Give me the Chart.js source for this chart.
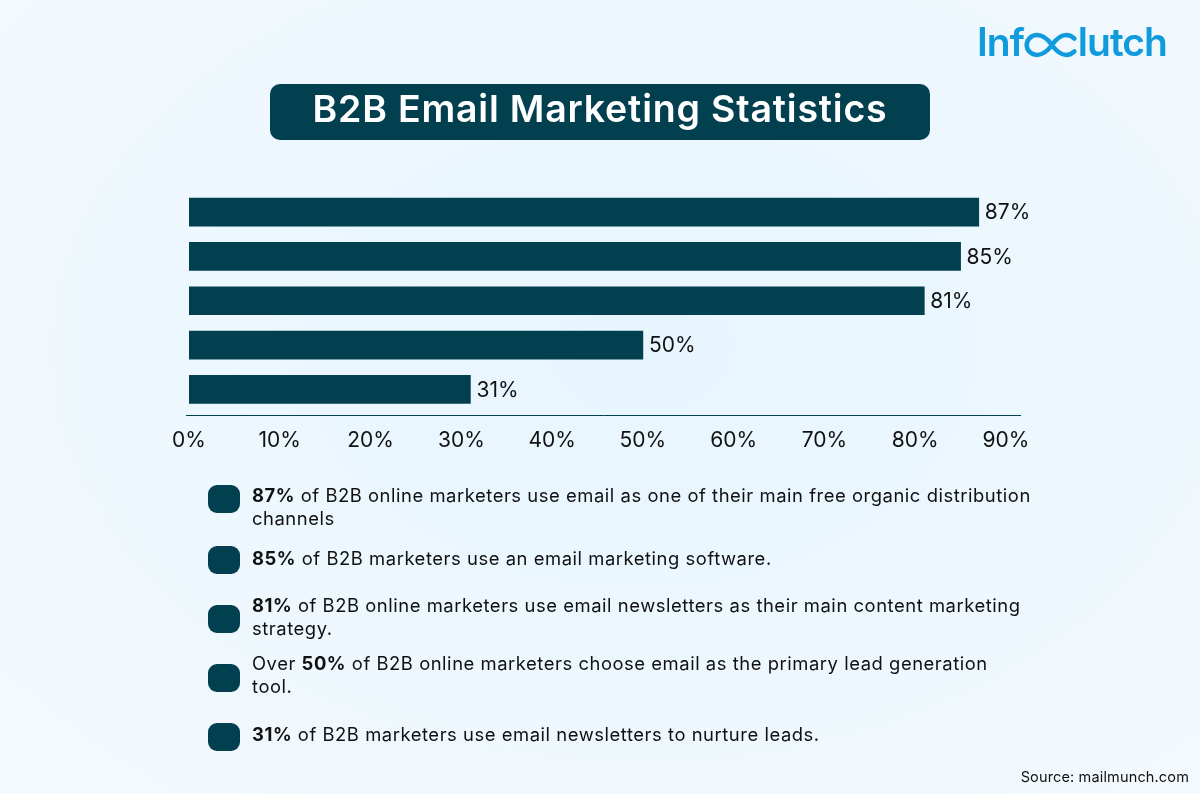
<!DOCTYPE html>
<html>
<head>
<meta charset="utf-8">
<script src="https://cdn.jsdelivr.net/npm/chart.js@4"></script>
<style>
  html, body { margin: 0; padding: 0; }
  body { width: 1200px; height: 794px; position: relative; overflow: hidden; font-family: Inter, sans-serif; color: #111;
    background: radial-gradient(ellipse 800px 560px at 640px 350px, #e7f5fe 0%, #ecf7fe 50%, #f3f9fd 100%); }
  #chart { position: absolute; left: 0; top: 0; }
  #title { position: absolute; left: 270px; top: 84px; width: 660px; height: 56px; line-height: 50px; background: #02404f; border-radius: 10px;
    color: #fff; font-size: 37.5px; font-weight: 600; letter-spacing: 0.8px; text-align: center; }
  #logo { position: absolute; left: 977px; top: 18px; font-size: 39px; line-height: 48px; font-weight: 600; white-space: nowrap; letter-spacing: -1px;
    color: #0f9bdc; display: flex; align-items: center; }
  #logo svg { margin: 5px 0 0 0; }
  .bullet { position: absolute; left: 208px; width: 32px; height: 28px; background: #02404f; border-radius: 9px; }
  .item { position: absolute; left: 252px; font-size: 18.4px; line-height: 23px; letter-spacing: 0.55px; white-space: nowrap; }
  .item b { font-weight: 700; }
  #source { position: absolute; right: 11px; top: 768px; font-size: 14.5px; line-height: 18px; letter-spacing: 0.15px; }
</style>
</head>
<body>
<canvas id="chart" width="1200" height="794"></canvas>
<div id="title">B2B Email Marketing Statistics</div>
<div id="logo" aria-label="Infoclutch">Inf<svg width="54" height="28" viewBox="0 0 60 30"><path d="M31 15C26 8 21 4 14.500 4C8 4 3 9 3 15C3 21 8 26 14.500 26C21 26 26 22 31 15C36 8 41 4 47 4C50 4 53 5 56 8M31 15C36 22 41 26 47 26C50 26 53 25 56 22" fill="none" stroke="#0f9bdc" stroke-width="5" stroke-linecap="round"/></svg>lutch</div>
<div id="source">Source: mailmunch.com</div>
<script>
const categories = ['Email as organic channel', 'Email marketing software', 'Email newsletters for content', 'Email for lead generation', 'Newsletters to nurture leads'];
const percentValues = [87, 85, 81, 50, 31];
const axisTicks = [0, 10, 20, 30, 40, 50, 60, 70, 80, 90];

// texte de la liste sous le graphique
const notePrefix = ['', '', '', 'Over ', ''];
const noteBold = ['87%', '85%', '81%', '50%', '31%'];
const noteLines = [
  [' of B2B online marketers use email as one of their main free organic distribution', 'channels'],
  [' of B2B marketers use an email marketing software.'],
  [' of B2B online marketers use email newsletters as their main content marketing', 'strategy.'],
  [' of B2B online marketers choose email as the primary lead generation', 'tool.'],
  [' of B2B marketers use email newsletters to nurture leads.']
];
const bulletTops = [485, 546, 605, 664, 723];
const noteTops = [484, 547, 594, 652, 723];

bulletTops.forEach((top, i) => {
  const bullet = document.createElement('div');
  bullet.className = 'bullet';
  bullet.style.top = top + 'px';
  document.body.appendChild(bullet);

  const note = document.createElement('div');
  note.className = 'item';
  note.style.top = noteTops[i] + 'px';
  const first = document.createElement('div');
  first.append(notePrefix[i]);
  const bold = document.createElement('b');
  bold.textContent = noteBold[i];
  first.append(bold, noteLines[i][0]);
  note.appendChild(first);
  if (noteLines[i][1]) {
    const second = document.createElement('div');
    second.textContent = noteLines[i][1];
    note.appendChild(second);
  }
  document.body.appendChild(note);
});

// ligne d'axe et valeurs au bout des barres
const barExtras = {
  id: 'barExtras',
  afterDatasetsDraw(chart) {
    const ctx = chart.ctx;
    const area = chart.chartArea;
    const lineY = Math.round(area.bottom + 3.5) + 0.5;
    ctx.save();
    ctx.strokeStyle = '#02404f';
    ctx.lineWidth = 1;
    ctx.beginPath();
    ctx.moveTo(area.left - 3, lineY);
    ctx.lineTo(area.right + 15, lineY);
    ctx.stroke();
    ctx.fillStyle = '#111';
    ctx.font = '21px Inter';
    ctx.textBaseline = 'middle';
    chart.getDatasetMeta(0).data.forEach((bar, i) => {
      ctx.fillText(percentValues[i] + '%', bar.x + 6, bar.y + 1);
    });
    ctx.restore();
  }
};

new Chart(document.getElementById('chart').getContext('2d'), {
  type: 'bar',
  data: {
    labels: categories,
    datasets: [{
      data: percentValues,
      backgroundColor: '#02404f',
      barThickness: 28
    }]
  },
  options: {
    indexAxis: 'y',
    responsive: false,
    animation: false,
    layout: { padding: { left: 189, right: 194, top: 190, bottom: 342.5 } },
    plugins: { legend: { display: false }, title: { display: false }, tooltip: { enabled: false } },
    scales: {
      x: {
        min: 0,
        max: 90,
        afterBuildTicks: scale => { scale.ticks = axisTicks.map(value => ({ value })); },
        afterFit: scale => { scale.height = 40; },
        grid: { display: false, drawTicks: false },
        border: { display: false },
        ticks: {
          autoSkip: false,
          maxRotation: 0,
          padding: 17,
          color: '#111',
          font: { family: 'Inter', size: 21 },
          callback: value => value + '%'
        }
      },
      y: { display: false }
    }
  },
  plugins: [barExtras]
});
</script>
</body>
</html>
